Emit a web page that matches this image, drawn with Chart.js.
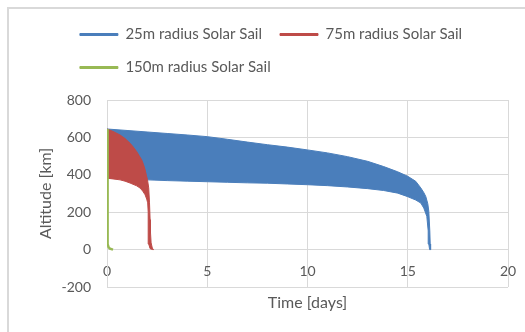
<!DOCTYPE html>
<html>
<head>
<meta charset="utf-8">
<script src="https://cdn.jsdelivr.net/npm/chart.js@4/dist/chart.umd.min.js"></script>
<style>
  body { margin: 0; background: #fff; }
  #frame { position: absolute; left: 7px; top: 7px; width: 600px; height: 400px;
           border-left: 2px solid #d9d9d9; border-top: 2px solid #d9d9d9; }
  #chart { position: absolute; left: 0; top: 0; }
</style>
</head>
<body>
<div id="frame"></div>
<canvas id="chart" width="525" height="332"></canvas>
<script>
// nomes das séries
const seriesNames = ['25m radius Solar Sail', '75m radius Solar Sail', '150m radius Solar Sail'];
const seriesColors = ['#4a7ebb', '#be4b48', '#98b954'];

// 25m: borda de cima (apogeu) e de baixo (perigeu) da faixa
const days25Upper = [0, 1, 2, 3, 4, 5, 6, 7, 8, 9, 10, 11, 12, 13, 13.8, 14.5, 15, 15.4, 15.65, 15.8, 15.9, 16.0, 16.05, 16.1, 16.12, 16.14];
const alt25Upper  = [645, 637, 629, 621, 613, 604, 590, 575, 561, 548, 533, 517, 497, 472, 444, 416, 392, 365, 330, 305, 284, 245, 205, 100, 30, 0];
const days25Lower = [0, 1, 2, 3, 4, 5, 6, 7, 8, 9, 10, 11, 12, 13, 13.8, 14.5, 15, 15.4, 15.65, 15.8, 15.95, 16.02, 16.05, 16.09];
const alt25Lower  = [385, 378, 373, 369, 366, 363, 360, 357, 355, 351, 347, 342, 335, 326, 316, 302, 283, 265, 249, 222, 178, 100, 30, 0];

// 75m
const days75Upper = [0, 0.3, 0.65, 0.9, 1.15, 1.3, 1.48, 1.6, 1.73, 1.82, 1.9, 1.97, 2.02, 2.08, 2.12, 2.15, 2.17, 2.2, 2.26, 2.32];
const alt75Upper  = [645, 632, 613, 594, 569, 550, 524, 503, 480, 455, 427, 395, 373, 330, 250, 160, 90, 36, 8, 0];
const days75Lower = [0, 0.3, 0.65, 0.9, 1.15, 1.48, 1.65, 1.78, 1.9, 1.98, 2.03, 2.05, 2.06, 2.08, 2.15, 2.28];
const alt75Lower  = [382, 378, 373, 366, 356, 341, 329, 313, 293, 270, 250, 200, 100, 30, 5, 0];

// 150m (cai quase na hora)
const days150 = [0, 0.02, 0.03, 0.04, 0.08, 0.15, 0.3];
const alt150  = [645, 400, 150, 30, 12, 5, 0];

// eixos
const xTicks = { min: 0, max: 20, step: 5 };
const yTicks = { min: -200, max: 800, step: 200 };

function pontos(dias, alt) {
    return dias.map((d, i) => ({ x: d, y: alt[i] }));
}

// faixa fechada: borda de cima e depois a de baixo de volta
function faixa(dUp, aUp, dLow, aLow) {
    return pontos(dUp, aUp).concat(pontos(dLow, aLow).reverse());
}

// espaço entre legenda e gráfico, e 2a linha alinhada com a 1a (como no Excel)
const legendaExcel = {
    id: 'legendaExcel',
    beforeInit(chart) {
        const fitOriginal = chart.legend.fit;
        chart.legend.fit = function () {
            fitOriginal.call(this);
            this.height += 15;
            if (this.lineWidths && this.lineWidths.length > 1) this.lineWidths[1] = this.lineWidths[0];
        };
    }
};

Chart.defaults.font.family = 'Lato';
Chart.defaults.color = '#595959';

let ctx = document.getElementById('chart').getContext('2d');
let grafico = new Chart(ctx, {
    type: 'line',
    data: {
        datasets: [
            {
                label: seriesNames[0],
                data: faixa(days25Upper, alt25Upper, days25Lower, alt25Lower),
                borderColor: seriesColors[0], backgroundColor: seriesColors[0],
                borderWidth: 1, fill: 'shape', order: 3
            },
            {
                label: seriesNames[1],
                data: faixa(days75Upper, alt75Upper, days75Lower, alt75Lower),
                borderColor: seriesColors[1], backgroundColor: seriesColors[1],
                borderWidth: 1, fill: 'shape', order: 2
            },
            {
                label: seriesNames[2],
                data: pontos(days150, alt150),
                borderColor: seriesColors[2], backgroundColor: seriesColors[2],
                borderWidth: 2.5, fill: false, order: 1
            }
        ]
    },
    options: {
        responsive: false,
        animation: false,
        events: [],
        elements: { point: { radius: 0 }, line: { tension: 0 } },
        layout: { padding: { top: 9, left: 34, right: 17, bottom: 16 } },
        plugins: {
            tooltip: { enabled: false },
            legend: {
                position: 'top',
                labels: {
                    boxWidth: 38,
                    boxHeight: 2,
                    padding: 18,
                    font: { size: 15 },
                    color: '#595959',
                    sort: (a, b) => a.datasetIndex - b.datasetIndex,
                    generateLabels: chart => Chart.defaults.plugins.legend.labels.generateLabels(chart)
                        .map(item => Object.assign(item, { lineWidth: 1 }))
                }
            }
        },
        scales: {
            x: {
                type: 'linear',
                min: xTicks.min, max: xTicks.max,
                position: { y: 0 },
                ticks: { stepSize: xTicks.step, padding: 13, font: { size: 14 } },
                grid: { color: '#d9d9d9', drawTicks: false },
                border: { color: '#d9d9d9' },
                afterFit: s => { s.paddingLeft = 0; s.paddingRight = 0; }
            },
            xTitle: {
                type: 'linear',
                min: xTicks.min, max: xTicks.max,
                position: 'bottom',
                ticks: { display: false },
                grid: { display: false },
                border: { display: false },
                title: { display: true, text: 'Time [days]', font: { size: 16 }, padding: { top: 6, bottom: 4 } },
                afterFit: s => { s.height = 29; }
            },
            y: {
                min: yTicks.min, max: yTicks.max,
                ticks: { stepSize: yTicks.step, padding: 16, font: { size: 14 } },
                grid: { color: '#d9d9d9', drawTicks: false },
                border: { color: '#d9d9d9' },
                title: { display: true, text: 'Altitude [km]', font: { size: 16 }, padding: { top: 2, bottom: 4 } },
                afterFit: s => { s.width = 73; }
            }
        }
    },
    plugins: [legendaExcel]
});
</script>
</body>
</html>
